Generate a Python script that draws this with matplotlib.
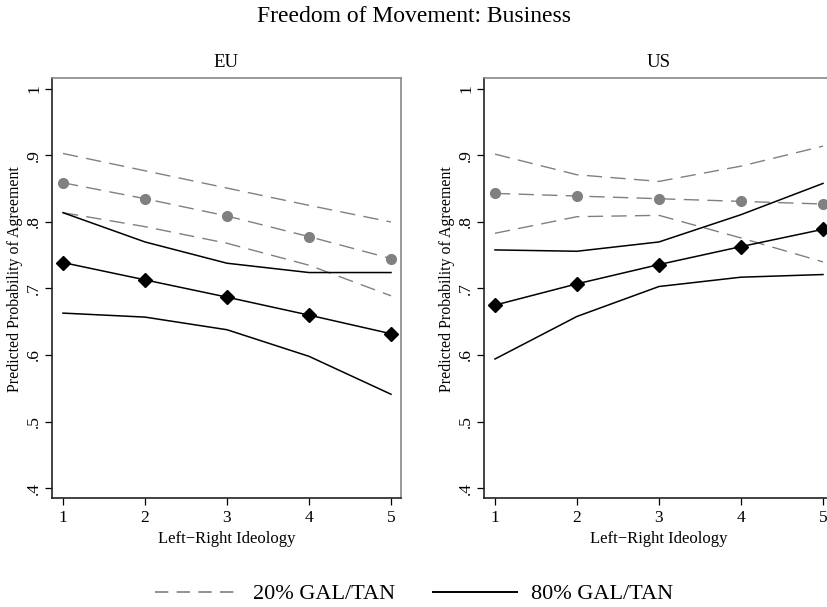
import matplotlib
matplotlib.use("Agg")
import matplotlib.pyplot as plt
from matplotlib.lines import Line2D

plt.rcParams['font.family'] = ['Liberation Serif', 'DejaVu Serif']

ideology = [1, 2, 3, 4, 5]

# predicted probabilities with 95% bounds, by region and GAL/TAN level
eu_low_mean = [0.859, 0.835, 0.809, 0.778, 0.745]
eu_low_upper = [0.903, 0.877, 0.851, 0.825, 0.800]
eu_low_lower = [0.814, 0.793, 0.768, 0.735, 0.689]
eu_high_mean = [0.739, 0.713, 0.687, 0.660, 0.632]
eu_high_upper = [0.814, 0.770, 0.738, 0.724, 0.724]
eu_high_lower = [0.663, 0.657, 0.638, 0.598, 0.541]

us_low_mean = [0.843, 0.839, 0.835, 0.831, 0.827]
us_low_upper = [0.902, 0.871, 0.861, 0.884, 0.914]
us_low_lower = [0.783, 0.808, 0.810, 0.776, 0.740]
us_high_mean = [0.675, 0.707, 0.736, 0.763, 0.789]
us_high_upper = [0.758, 0.756, 0.770, 0.811, 0.858]
us_high_lower = [0.594, 0.658, 0.703, 0.717, 0.721]

y_ticks = [0.4, 0.5, 0.6, 0.7, 0.8, 0.9, 1.0]
y_tick_labels = ['.4', '.5', '.6', '.7', '.8', '.9', '1']

GRAY = '#808080'
DASH = (11, 6)

fig = plt.figure(figsize=(8.28, 6.07), dpi=100)
W, H = 828, 607


def px_axes(left, top, right, bottom):
    return fig.add_axes([left / W, (H - bottom) / H, (right - left) / W, (bottom - top) / H])


def draw_panel(ax, title, low, high):
    lm, lu, ll = low
    hm, hu, hl = high
    ax.plot(ideology, lu, color=GRAY, lw=1.0, dashes=DASH)
    ax.plot(ideology, ll, color=GRAY, lw=1.0, dashes=DASH)
    ax.plot(ideology, lm, color=GRAY, lw=1.0, dashes=DASH,
            marker='o', ms=7, mec=GRAY, mfc=GRAY)
    ax.plot(ideology, hu, color='black', lw=1.1)
    ax.plot(ideology, hl, color='black', lw=1.1)
    ax.plot(ideology, hm, color='black', lw=1.1,
            marker='D', ms=7, mec='black', mfc='black')

    ax.set_xlim(0.866, 5.122)
    ax.set_ylim(0.385, 1.0165)
    ax.set_xticks(ideology)
    ax.set_yticks(y_ticks)
    ax.set_yticklabels(y_tick_labels, rotation=90, va='center')
    ax.tick_params(axis='both', direction='out', length=5, width=0.9,
                   labelsize=12.5, colors='black')
    ax.tick_params(axis='y', pad=2)
    ax.set_xlabel('Left\u2212Right Ideology', fontsize=12, labelpad=4)
    ax.set_ylabel('Predicted Probability of Agreement', fontsize=11.4)
    ax.yaxis.set_label_coords(-0.084, 0.521)
    ax.set_title(title, fontsize=13.5, pad=8)
    for side in ('left', 'bottom'):
        ax.spines[side].set_color('#222222')
        ax.spines[side].set_linewidth(1.2)
    for side in ('top', 'right'):
        ax.spines[side].set_color('#888888')
        ax.spines[side].set_linewidth(1.2)


ax_eu = px_axes(52, 78, 401, 498)
ax_us = px_axes(484, 78, 833, 498)

draw_panel(ax_eu, 'EU',
           (eu_low_mean, eu_low_upper, eu_low_lower),
           (eu_high_mean, eu_high_upper, eu_high_lower))
draw_panel(ax_us, 'US',
           (us_low_mean, us_low_upper, us_low_lower),
           (us_high_mean, us_high_upper, us_high_lower))

fig.text(0.5, 1 - 17 / H, 'Freedom of Movement: Business', ha='center', va='center', fontsize=17)

handles = [Line2D([], [], color=GRAY, lw=1.2, dashes=(8, 5)),
           Line2D([], [], color='black', lw=1.4)]
fig.legend(handles, ['20% GAL/TAN', '80% GAL/TAN'], loc='center',
           bbox_to_anchor=(0.5, 13 / H), ncol=2, frameon=False, fontsize=16,
           handlelength=3.8, handletextpad=0.6, columnspacing=1.7)

fig.savefig('out.png', dpi=100, facecolor='white')
